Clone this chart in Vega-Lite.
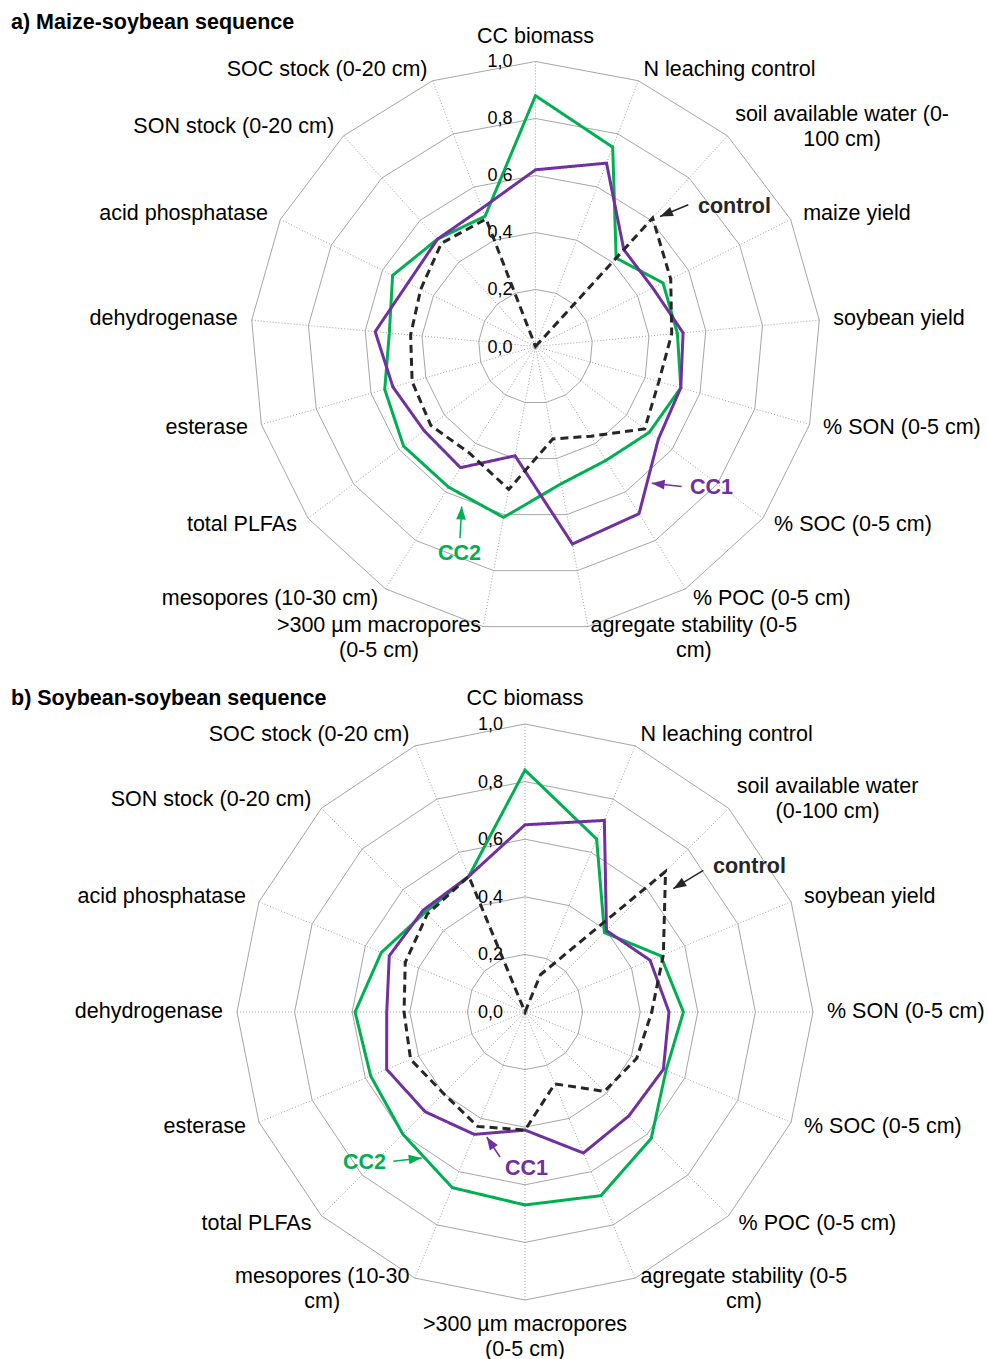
{
  "$schema": "https://vega.github.io/schema/vega-lite/v6.json",
  "padding": {"left": 0, "right": 0, "top": 12, "bottom": 0},
  "spacing": 0,
  "background": "white",
  "config": {"view": {"stroke": null}, "font": "Liberation Sans"},
  "datasets": {
    "axesA": [
      {"i": 0, "label": "CC biomass"},
      {"i": 1, "label": "N leaching control"},
      {"i": 2, "label": "soil available water (0-\n100 cm)"},
      {"i": 3, "label": "maize yield"},
      {"i": 4, "label": "soybean yield"},
      {"i": 5, "label": "% SON (0-5 cm)"},
      {"i": 6, "label": "% SOC (0-5 cm)"},
      {"i": 7, "label": "% POC (0-5 cm)"},
      {"i": 8, "label": "agregate stability (0-5\ncm)"},
      {"i": 9, "label": ">300 µm macropores\n(0-5 cm)"},
      {"i": 10, "label": "mesopores (10-30 cm)"},
      {"i": 11, "label": "total PLFAs"},
      {"i": 12, "label": "esterase"},
      {"i": 13, "label": "dehydrogenase"},
      {"i": 14, "label": "acid phosphatase"},
      {"i": 15, "label": "SON stock (0-20 cm)"},
      {"i": 16, "label": "SOC stock (0-20 cm)"}
    ],
    "axesB": [
      {"i": 0, "label": "CC biomass"},
      {"i": 1, "label": "N leaching control"},
      {"i": 2, "label": "soil available water\n(0-100 cm)"},
      {"i": 3, "label": "soybean yield"},
      {"i": 4, "label": "% SON (0-5 cm)"},
      {"i": 5, "label": "% SOC (0-5 cm)"},
      {"i": 6, "label": "% POC (0-5 cm)"},
      {"i": 7, "label": "agregate stability (0-5\ncm)"},
      {"i": 8, "label": ">300 µm macropores\n(0-5 cm)"},
      {"i": 9, "label": "mesopores (10-30\ncm)"},
      {"i": 10, "label": "total PLFAs"},
      {"i": 11, "label": "esterase"},
      {"i": 12, "label": "dehydrogenase"},
      {"i": 13, "label": "acid phosphatase"},
      {"i": 14, "label": "SON stock (0-20 cm)"},
      {"i": 15, "label": "SOC stock (0-20 cm)"}
    ],
    "ringsA": [
      {"level": 0.2, "i": [0,1,2,3,4,5,6,7,8,9,10,11,12,13,14,15,16]},
      {"level": 0.4, "i": [0,1,2,3,4,5,6,7,8,9,10,11,12,13,14,15,16]},
      {"level": 0.6, "i": [0,1,2,3,4,5,6,7,8,9,10,11,12,13,14,15,16]},
      {"level": 0.8, "i": [0,1,2,3,4,5,6,7,8,9,10,11,12,13,14,15,16]},
      {"level": 1.0, "i": [0,1,2,3,4,5,6,7,8,9,10,11,12,13,14,15,16]}
    ],
    "ringsB": [
      {"level": 0.2, "i": [0,1,2,3,4,5,6,7,8,9,10,11,12,13,14,15]},
      {"level": 0.4, "i": [0,1,2,3,4,5,6,7,8,9,10,11,12,13,14,15]},
      {"level": 0.6, "i": [0,1,2,3,4,5,6,7,8,9,10,11,12,13,14,15]},
      {"level": 0.8, "i": [0,1,2,3,4,5,6,7,8,9,10,11,12,13,14,15]},
      {"level": 1.0, "i": [0,1,2,3,4,5,6,7,8,9,10,11,12,13,14,15]}
    ],
    "ticks": [
      {"t": "0,0", "v": 0}, {"t": "0,2", "v": 0.2}, {"t": "0,4", "v": 0.4},
      {"t": "0,6", "v": 0.6}, {"t": "0,8", "v": 0.8}, {"t": "1,0", "v": 1.0}
    ],
    "seriesA": [
      {"series": "CC2", "i": 0, "v": 0.88}, {"series": "CC2", "i": 1, "v": 0.75}, {"series": "CC2", "i": 2, "v": 0.42},
      {"series": "CC2", "i": 3, "v": 0.50}, {"series": "CC2", "i": 4, "v": 0.50}, {"series": "CC2", "i": 5, "v": 0.53},
      {"series": "CC2", "i": 6, "v": 0.50}, {"series": "CC2", "i": 7, "v": 0.47}, {"series": "CC2", "i": 8, "v": 0.49},
      {"series": "CC2", "i": 9, "v": 0.61}, {"series": "CC2", "i": 10, "v": 0.58}, {"series": "CC2", "i": 11, "v": 0.58},
      {"series": "CC2", "i": 12, "v": 0.55}, {"series": "CC2", "i": 13, "v": 0.515}, {"series": "CC2", "i": 14, "v": 0.56},
      {"series": "CC2", "i": 15, "v": 0.51}, {"series": "CC2", "i": 16, "v": 0.49},
      {"series": "CC1", "i": 0, "v": 0.62}, {"series": "CC1", "i": 1, "v": 0.69}, {"series": "CC1", "i": 2, "v": 0.46},
      {"series": "CC1", "i": 3, "v": 0.46}, {"series": "CC1", "i": 4, "v": 0.52}, {"series": "CC1", "i": 5, "v": 0.53},
      {"series": "CC1", "i": 6, "v": 0.54}, {"series": "CC1", "i": 7, "v": 0.69}, {"series": "CC1", "i": 8, "v": 0.705},
      {"series": "CC1", "i": 9, "v": 0.39}, {"series": "CC1", "i": 10, "v": 0.50}, {"series": "CC1", "i": 11, "v": 0.49},
      {"series": "CC1", "i": 12, "v": 0.52}, {"series": "CC1", "i": 13, "v": 0.565}, {"series": "CC1", "i": 14, "v": 0.50},
      {"series": "CC1", "i": 15, "v": 0.51}, {"series": "CC1", "i": 16, "v": 0.52},
      {"series": "control", "i": 0, "v": 0}, {"series": "control", "i": 1, "v": 0}, {"series": "control", "i": 2, "v": 0.61},
      {"series": "control", "i": 3, "v": 0.53}, {"series": "control", "i": 4, "v": 0.48}, {"series": "control", "i": 5, "v": 0.45},
      {"series": "control", "i": 6, "v": 0.48}, {"series": "control", "i": 7, "v": 0.37}, {"series": "control", "i": 8, "v": 0.33},
      {"series": "control", "i": 9, "v": 0.51}, {"series": "control", "i": 10, "v": 0.44}, {"series": "control", "i": 11, "v": 0.46},
      {"series": "control", "i": 12, "v": 0.45}, {"series": "control", "i": 13, "v": 0.44}, {"series": "control", "i": 14, "v": 0.45},
      {"series": "control", "i": 15, "v": 0.49}, {"series": "control", "i": 16, "v": 0.48}
    ],
    "seriesB": [
      {"series": "CC2", "i": 0, "v": 0.84}, {"series": "CC2", "i": 1, "v": 0.65}, {"series": "CC2", "i": 2, "v": 0.39},
      {"series": "CC2", "i": 3, "v": 0.51}, {"series": "CC2", "i": 4, "v": 0.55}, {"series": "CC2", "i": 5, "v": 0.53},
      {"series": "CC2", "i": 6, "v": 0.62}, {"series": "CC2", "i": 7, "v": 0.69}, {"series": "CC2", "i": 8, "v": 0.67},
      {"series": "CC2", "i": 9, "v": 0.66}, {"series": "CC2", "i": 10, "v": 0.60}, {"series": "CC2", "i": 11, "v": 0.58},
      {"series": "CC2", "i": 12, "v": 0.59}, {"series": "CC2", "i": 13, "v": 0.54}, {"series": "CC2", "i": 14, "v": 0.49},
      {"series": "CC2", "i": 15, "v": 0.51},
      {"series": "CC1", "i": 0, "v": 0.65}, {"series": "CC1", "i": 1, "v": 0.72}, {"series": "CC1", "i": 2, "v": 0.40},
      {"series": "CC1", "i": 3, "v": 0.47}, {"series": "CC1", "i": 4, "v": 0.50}, {"series": "CC1", "i": 5, "v": 0.52},
      {"series": "CC1", "i": 6, "v": 0.51}, {"series": "CC1", "i": 7, "v": 0.53}, {"series": "CC1", "i": 8, "v": 0.41},
      {"series": "CC1", "i": 9, "v": 0.46}, {"series": "CC1", "i": 10, "v": 0.49}, {"series": "CC1", "i": 11, "v": 0.52},
      {"series": "CC1", "i": 12, "v": 0.48}, {"series": "CC1", "i": 13, "v": 0.51}, {"series": "CC1", "i": 14, "v": 0.50},
      {"series": "CC1", "i": 15, "v": 0.51},
      {"series": "control", "i": 0, "v": 0}, {"series": "control", "i": 1, "v": 0.14}, {"series": "control", "i": 2, "v": 0.69},
      {"series": "control", "i": 3, "v": 0.52}, {"series": "control", "i": 4, "v": 0.44}, {"series": "control", "i": 5, "v": 0.42},
      {"series": "control", "i": 6, "v": 0.39}, {"series": "control", "i": 7, "v": 0.27}, {"series": "control", "i": 8, "v": 0.41},
      {"series": "control", "i": 9, "v": 0.43}, {"series": "control", "i": 10, "v": 0.40}, {"series": "control", "i": 11, "v": 0.43},
      {"series": "control", "i": 12, "v": 0.42}, {"series": "control", "i": 13, "v": 0.45}, {"series": "control", "i": 14, "v": 0.48},
      {"series": "control", "i": 15, "v": 0.51}
    ],
    "annA": [
      {"label": "control", "series": "control", "tx": 0.5702, "ty": 0.4912, "ax": 0.5361, "ay": 0.4972, "bx": 0.4368, "by": 0.4561},
      {"label": "CC1", "series": "CC1", "tx": 0.5421, "ty": -0.4982, "ax": 0.5130, "ay": -0.4912, "bx": 0.4077, "by": -0.4796},
      {"label": "CC2", "series": "CC2", "tx": -0.3421, "ty": -0.7263, "ax": -0.2649, "ay": -0.6726, "bx": -0.2589, "by": -0.5614}
    ],
    "annB": [
      {"label": "control", "series": "control", "tx": 0.6528, "ty": 0.5035, "ax": 0.6191, "ay": 0.4920, "bx": 0.5149, "by": 0.4281},
      {"label": "CC1", "series": "CC1", "tx": -0.0694, "ty": -0.5451, "ax": -0.0868, "ay": -0.5035, "bx": -0.1330, "by": -0.4340},
      {"label": "CC2", "series": "CC2", "tx": -0.6319, "ty": -0.5243, "ax": -0.4573, "ay": -0.5184, "bx": -0.3587, "by": -0.5069}
    ]
  },
  "vconcat": [
    {
      "title": {"text": "a) Maize-soybean sequence", "anchor": "start", "frame": "group", "dx": 11, "offset": -8, "fontSize": 21.5, "fontWeight": "bold", "font": "Liberation Sans", "color": "#000000"},
      "width": 988,
      "height": 646,
      "encoding": {
        "x": {"field": "x", "type": "quantitative", "scale": {"domain": [-1.8789, 1.5877], "nice": false, "zero": false}, "axis": null},
        "y": {"field": "y", "type": "quantitative", "scale": {"domain": [-1.1947, 1.0719], "nice": false, "zero": false}, "axis": null}
      },
      "layer": [
        {
          "data": {"name": "ringsA"},
          "transform": [
            {"flatten": ["i"]},
            {"calculate": "2*PI*datum.i/17", "as": "ang"},
            {"calculate": "datum.level*sin(datum.ang)", "as": "x"},
            {"calculate": "datum.level*cos(datum.ang)", "as": "y"}
          ],
          "mark": {"type": "line", "interpolate": "linear-closed", "color": "#a6a6a6", "strokeWidth": 1},
          "encoding": {"detail": {"field": "level", "type": "nominal"}, "order": {"field": "i", "type": "quantitative"}}
        },
        {
          "data": {"name": "axesA"},
          "transform": [
            {"calculate": "2*PI*datum.i/17", "as": "ang"},
            {"calculate": "sin(datum.ang)", "as": "x"},
            {"calculate": "cos(datum.ang)", "as": "y"}
          ],
          "mark": {"type": "rule", "color": "#a0a0a0", "strokeWidth": 1, "strokeDash": [1, 2]},
          "encoding": {"x2": {"datum": 0}, "y2": {"datum": 0}}
        },
        {
          "data": {"name": "ticks"},
          "transform": [{"calculate": "0", "as": "x"}, {"calculate": "datum.v", "as": "y"}],
          "mark": {"type": "text", "align": "right", "baseline": "middle", "dx": -23, "dy": 1, "fontSize": 18, "color": "#000000"},
          "encoding": {"text": {"field": "t", "type": "nominal"}}
        },
        {
          "data": {"name": "seriesA"},
          "transform": [
            {"calculate": "2*PI*datum.i/17", "as": "ang"},
            {"calculate": "datum.v*sin(datum.ang)", "as": "x"},
            {"calculate": "datum.v*cos(datum.ang)", "as": "y"}
          ],
          "mark": {"type": "line", "interpolate": "linear-closed", "strokeWidth": 3},
          "encoding": {
            "color": {"field": "series", "type": "nominal", "scale": {"domain": ["CC1", "CC2", "control"], "range": ["#7030A0", "#00B050", "#262626"]}, "legend": null},
            "strokeDash": {"field": "series", "type": "nominal", "scale": {"domain": ["CC1", "CC2", "control"], "range": [[1, 0], [1, 0], [8, 5]]}, "legend": null},
            "order": {"field": "i", "type": "quantitative"}
          }
        },
        {
          "data": {"name": "axesA"},
          "transform": [
            {"calculate": "2*PI*datum.i/17", "as": "ang"},
            {"calculate": "sin(datum.ang)", "as": "s"},
            {"calculate": "cos(datum.ang)", "as": "c"},
            {"calculate": "split(datum.label, '\\n')", "as": "lines"},
            {"calculate": "length(datum.lines)", "as": "nl"},
            {"calculate": "datum.lines[0]", "as": "l1"},
            {"calculate": "0.556*length(datum.l1) - 0.334*length(replace(datum.l1, regexp('[^ilj]','g'), '')) - 0.278*length(replace(datum.l1, regexp('[^tf ]','g'), '')) - 0.223*length(replace(datum.l1, regexp('[^r()-]','g'), '')) - 0.056*length(replace(datum.l1, regexp('[^sckvxyz]','g'), '')) + 0.277*length(replace(datum.l1, regexp('[^m]','g'), '')) + 0.15*length(replace(datum.l1, regexp('[^A-Z%]','g'), ''))", "as": "wem"},
            {"calculate": "datum.s*(1+14/285)", "as": "xe"},
            {"calculate": "datum.c*(1+12/285) + (abs(datum.s) < 0.1 ? (datum.c > 0 ? 1 : -1)*datum.nl*12.5/285 : 0) + (datum.nl-1)*12.5/285", "as": "y"},
            {"calculate": "abs(datum.s) <= 0.1 ? datum.xe : datum.xe + (datum.s > 0 ? 1 : -1)*datum.wem*21.5/285/2", "as": "xc"},
            {"calculate": "(datum.nl > 1 || abs(datum.s) <= 0.1) ? 'c' : (datum.s > 0 ? 'l' : 'r')", "as": "side"},
            {"calculate": "datum.side == 'c' ? datum.xc : datum.xe", "as": "x"}
          ],
          "layer": [
            {"transform": [{"filter": "datum.side == 'l'"}], "mark": {"type": "text", "align": "left", "baseline": "middle", "fontSize": 21.5, "lineHeight": 25, "lineBreak": "\n", "color": "#000000"}, "encoding": {"text": {"field": "label", "type": "nominal"}}},
            {"transform": [{"filter": "datum.side == 'r'"}], "mark": {"type": "text", "align": "right", "baseline": "middle", "fontSize": 21.5, "lineHeight": 25, "lineBreak": "\n", "color": "#000000"}, "encoding": {"text": {"field": "label", "type": "nominal"}}},
            {"transform": [{"filter": "datum.side == 'c'"}], "mark": {"type": "text", "align": "center", "baseline": "middle", "fontSize": 21.5, "lineHeight": 25, "lineBreak": "\n", "color": "#000000"}, "encoding": {"text": {"field": "label", "type": "nominal"}}}
          ]
        },
        {
          "data": {"name": "annA"},
          "transform": [{"calculate": "datum.tx", "as": "x"}, {"calculate": "datum.ty", "as": "y"}],
          "mark": {"type": "text", "align": "left", "baseline": "middle", "fontSize": 21.5, "fontWeight": "bold"},
          "encoding": {
            "text": {"field": "label", "type": "nominal"},
            "color": {"field": "series", "type": "nominal", "scale": {"domain": ["CC1", "CC2", "control"], "range": ["#7030A0", "#00B050", "#262626"]}, "legend": null}
          }
        },
        {
          "data": {"name": "annA"},
          "transform": [{"calculate": "datum.ax", "as": "x"}, {"calculate": "datum.ay", "as": "y"}],
          "mark": {"type": "rule", "strokeWidth": 1.5},
          "encoding": {
            "x2": {"field": "bx"}, "y2": {"field": "by"},
            "color": {"field": "series", "type": "nominal", "scale": {"domain": ["CC1", "CC2", "control"], "range": ["#7030A0", "#00B050", "#262626"]}, "legend": null}
          }
        },
        {
          "data": {"name": "annA"},
          "transform": [
            {"calculate": "sqrt(pow(datum.bx-datum.ax,2)+pow(datum.by-datum.ay,2))", "as": "len"},
            {"calculate": "datum.bx - (datum.bx-datum.ax)/datum.len*0.0284", "as": "x"},
            {"calculate": "datum.by - (datum.by-datum.ay)/datum.len*0.0284", "as": "y"},
            {"calculate": "atan2(datum.bx-datum.ax, datum.by-datum.ay)*180/PI", "as": "rot"}
          ],
          "mark": {"type": "point", "shape": "M0,-1L0.6,0.6L-0.6,0.6Z", "filled": true, "size": 260, "opacity": 1},
          "encoding": {
            "angle": {"field": "rot", "type": "quantitative", "scale": null},
            "color": {"field": "series", "type": "nominal", "scale": {"domain": ["CC1", "CC2", "control"], "range": ["#7030A0", "#00B050", "#262626"]}, "legend": null}
          }
        }
      ]
    },
    {
      "title": {"text": "b) Soybean-soybean sequence", "anchor": "start", "frame": "group", "dx": 11, "offset": -21, "fontSize": 21.5, "fontWeight": "bold", "font": "Liberation Sans", "color": "#000000"},
      "width": 988,
      "height": 643,
      "encoding": {
        "x": {"field": "x", "type": "quantitative", "scale": {"domain": [-1.8229, 1.6076], "nice": false, "zero": false}, "axis": null},
        "y": {"field": "y", "type": "quantitative", "scale": {"domain": [-1.2083, 1.0243], "nice": false, "zero": false}, "axis": null}
      },
      "layer": [
        {
          "data": {"name": "ringsB"},
          "transform": [
            {"flatten": ["i"]},
            {"calculate": "2*PI*datum.i/16", "as": "ang"},
            {"calculate": "datum.level*sin(datum.ang)", "as": "x"},
            {"calculate": "datum.level*cos(datum.ang)", "as": "y"}
          ],
          "mark": {"type": "line", "interpolate": "linear-closed", "color": "#a6a6a6", "strokeWidth": 1},
          "encoding": {"detail": {"field": "level", "type": "nominal"}, "order": {"field": "i", "type": "quantitative"}}
        },
        {
          "data": {"name": "axesB"},
          "transform": [
            {"calculate": "2*PI*datum.i/16", "as": "ang"},
            {"calculate": "sin(datum.ang)", "as": "x"},
            {"calculate": "cos(datum.ang)", "as": "y"}
          ],
          "mark": {"type": "rule", "color": "#a0a0a0", "strokeWidth": 1, "strokeDash": [1, 2]},
          "encoding": {"x2": {"datum": 0}, "y2": {"datum": 0}}
        },
        {
          "data": {"name": "ticks"},
          "transform": [{"calculate": "0", "as": "x"}, {"calculate": "datum.v", "as": "y"}],
          "mark": {"type": "text", "align": "right", "baseline": "middle", "dx": -22, "dy": 1, "fontSize": 18, "color": "#000000"},
          "encoding": {"text": {"field": "t", "type": "nominal"}}
        },
        {
          "data": {"name": "seriesB"},
          "transform": [
            {"calculate": "2*PI*datum.i/16", "as": "ang"},
            {"calculate": "datum.v*sin(datum.ang)", "as": "x"},
            {"calculate": "datum.v*cos(datum.ang)", "as": "y"}
          ],
          "mark": {"type": "line", "interpolate": "linear-closed", "strokeWidth": 3},
          "encoding": {
            "color": {"field": "series", "type": "nominal", "scale": {"domain": ["CC1", "CC2", "control"], "range": ["#7030A0", "#00B050", "#262626"]}, "legend": null},
            "strokeDash": {"field": "series", "type": "nominal", "scale": {"domain": ["CC1", "CC2", "control"], "range": [[1, 0], [1, 0], [8, 5]]}, "legend": null},
            "order": {"field": "i", "type": "quantitative"}
          }
        },
        {
          "data": {"name": "axesB"},
          "transform": [
            {"calculate": "2*PI*datum.i/16", "as": "ang"},
            {"calculate": "sin(datum.ang)", "as": "s"},
            {"calculate": "cos(datum.ang)", "as": "c"},
            {"calculate": "split(datum.label, '\\n')", "as": "lines"},
            {"calculate": "length(datum.lines)", "as": "nl"},
            {"calculate": "datum.lines[0]", "as": "l1"},
            {"calculate": "0.556*length(datum.l1) - 0.334*length(replace(datum.l1, regexp('[^ilj]','g'), '')) - 0.278*length(replace(datum.l1, regexp('[^tf ]','g'), '')) - 0.223*length(replace(datum.l1, regexp('[^r()-]','g'), '')) - 0.056*length(replace(datum.l1, regexp('[^sckvxyz]','g'), '')) + 0.277*length(replace(datum.l1, regexp('[^m]','g'), '')) + 0.15*length(replace(datum.l1, regexp('[^A-Z%]','g'), ''))", "as": "wem"},
            {"calculate": "datum.s*(1+14/288)", "as": "xe"},
            {"calculate": "datum.c*(1+12/288) + (abs(datum.s) < 0.1 ? (datum.c > 0 ? 1 : -1)*datum.nl*12.5/288 : 0) + (datum.nl-1)*12.5/288", "as": "y"},
            {"calculate": "abs(datum.s) <= 0.1 ? datum.xe : datum.xe + (datum.s > 0 ? 1 : -1)*datum.wem*21.5/288/2", "as": "xc"},
            {"calculate": "(datum.nl > 1 || abs(datum.s) <= 0.1) ? 'c' : (datum.s > 0 ? 'l' : 'r')", "as": "side"},
            {"calculate": "datum.side == 'c' ? datum.xc : datum.xe", "as": "x"}
          ],
          "layer": [
            {"transform": [{"filter": "datum.side == 'l'"}], "mark": {"type": "text", "align": "left", "baseline": "middle", "fontSize": 21.5, "lineHeight": 25, "lineBreak": "\n", "color": "#000000"}, "encoding": {"text": {"field": "label", "type": "nominal"}}},
            {"transform": [{"filter": "datum.side == 'r'"}], "mark": {"type": "text", "align": "right", "baseline": "middle", "fontSize": 21.5, "lineHeight": 25, "lineBreak": "\n", "color": "#000000"}, "encoding": {"text": {"field": "label", "type": "nominal"}}},
            {"transform": [{"filter": "datum.side == 'c'"}], "mark": {"type": "text", "align": "center", "baseline": "middle", "fontSize": 21.5, "lineHeight": 25, "lineBreak": "\n", "color": "#000000"}, "encoding": {"text": {"field": "label", "type": "nominal"}}}
          ]
        },
        {
          "data": {"name": "annB"},
          "transform": [{"calculate": "datum.tx", "as": "x"}, {"calculate": "datum.ty", "as": "y"}],
          "mark": {"type": "text", "align": "left", "baseline": "middle", "fontSize": 21.5, "fontWeight": "bold"},
          "encoding": {
            "text": {"field": "label", "type": "nominal"},
            "color": {"field": "series", "type": "nominal", "scale": {"domain": ["CC1", "CC2", "control"], "range": ["#7030A0", "#00B050", "#262626"]}, "legend": null}
          }
        },
        {
          "data": {"name": "annB"},
          "transform": [{"calculate": "datum.ax", "as": "x"}, {"calculate": "datum.ay", "as": "y"}],
          "mark": {"type": "rule", "strokeWidth": 1.5},
          "encoding": {
            "x2": {"field": "bx"}, "y2": {"field": "by"},
            "color": {"field": "series", "type": "nominal", "scale": {"domain": ["CC1", "CC2", "control"], "range": ["#7030A0", "#00B050", "#262626"]}, "legend": null}
          }
        },
        {
          "data": {"name": "annB"},
          "transform": [
            {"calculate": "sqrt(pow(datum.bx-datum.ax,2)+pow(datum.by-datum.ay,2))", "as": "len"},
            {"calculate": "datum.bx - (datum.bx-datum.ax)/datum.len*0.0281", "as": "x"},
            {"calculate": "datum.by - (datum.by-datum.ay)/datum.len*0.0281", "as": "y"},
            {"calculate": "atan2(datum.bx-datum.ax, datum.by-datum.ay)*180/PI", "as": "rot"}
          ],
          "mark": {"type": "point", "shape": "M0,-1L0.6,0.6L-0.6,0.6Z", "filled": true, "size": 260, "opacity": 1},
          "encoding": {
            "angle": {"field": "rot", "type": "quantitative", "scale": null},
            "color": {"field": "series", "type": "nominal", "scale": {"domain": ["CC1", "CC2", "control"], "range": ["#7030A0", "#00B050", "#262626"]}, "legend": null}
          }
        }
      ]
    }
  ]
}
